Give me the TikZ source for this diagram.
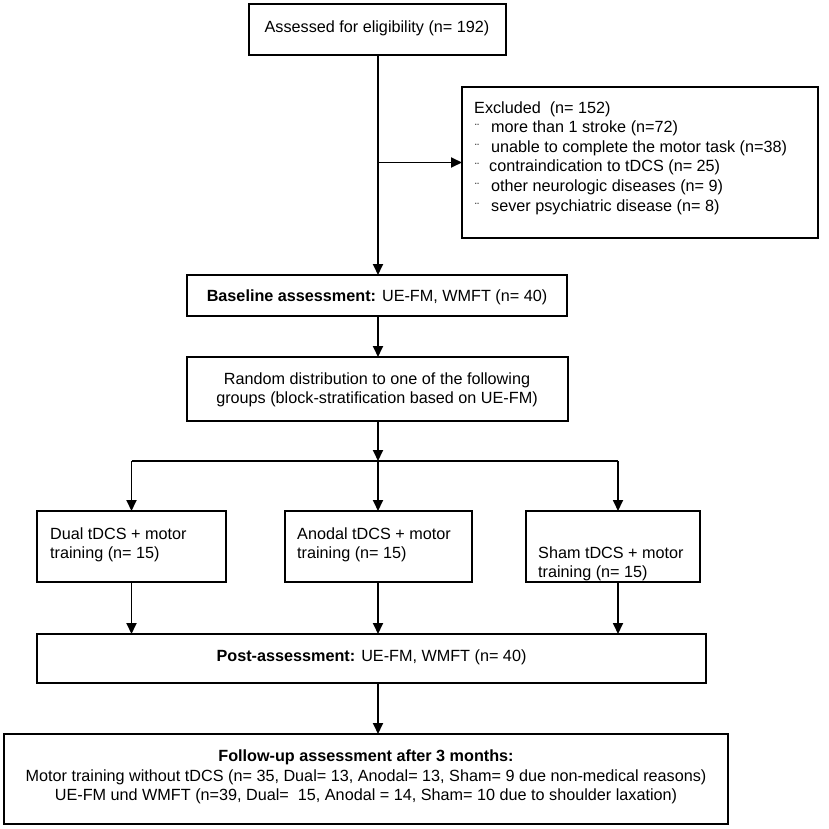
\documentclass[tikz,border=0pt]{standalone}
\usepackage{fontspec}
\setmainfont{Liberation Sans}
\usetikzlibrary{arrows.meta}
\newcommand\mkbox[5]{\node[boxshape, minimum width={#4-#2}, minimum height={#5-#3}] (#1) at ({(#2+#4)/2},{(#3+#5)/2}) {};}
\newcommand\bul{\makebox[17pt][l]{\hspace{1pt}\raisebox{0pt}{\fontsize{12}{12}\selectfont ¨}}}
\begin{document}
\begin{tikzpicture}[x=1pt,y=-1pt,
 boxshape/.style={draw, line width=2pt, inner sep=0pt, outer sep=0pt, rectangle},
 txt/.style={inner sep=0pt, font=\fontsize{16.2}{19.6}\selectfont},
 conn/.style={line width=1.8pt, -{Triangle[length=11pt,width=10pt]}},
 plainline/.style={line width=1.8pt}]
\useasboundingbox[fill=white] (0,0) rectangle (829,829);

\mkbox{elig}{249}{4}{506}{55}
\mkbox{excl}{462}{87}{818}{238}
\mkbox{base}{187}{275}{567}{316}
\mkbox{rand}{187}{357}{568}{421}
\mkbox{dual}{37}{511}{226}{582}
\mkbox{anod}{285}{511}{472}{582}
\mkbox{sham}{526}{511}{700}{582}
\mkbox{post}{37}{634}{706}{683}
\mkbox{foll}{4}{734}{728}{824}

\node[txt] (eligt) at (377,28) {Assessed for eligibility (n= 192)};
\node[txt, anchor=west, align=left] (exclt) at (474,158) {Excluded\ \ (n= 152)\\
\bul more than 1 stroke (n=72)\\
\bul unable to complete the motor task (n=38)\\
\bul\hspace{-2pt}contraindication to tDCS (n= 25)\\
\bul other neurologic diseases (n= 9)\\
\bul sever psychiatric disease (n= 8)};
\node[txt] (baset) at (377,297) {\textbf{Baseline assessment:} UE-FM, WMFT (n= 40)};
\node[txt, align=center] (randt) at (377,390) {Random distribution to one of the following\\groups (block-stratification based on UE-FM)};
\node[txt, anchor=west, align=left] (dualt) at (50,545) {Dual tDCS + motor\\training (n= 15)};
\node[txt, anchor=west, align=left] (anodt) at (297,545) {Anodal tDCS + motor\\training (n= 15)};
\node[txt, anchor=west, align=left] (shamt) at (538,564) {Sham tDCS + motor\\training (n= 15)};
\node[txt] (postt) at (371.5,657) {\textbf{Post-assessment:} UE-FM, WMFT (n= 40)};
\node[txt, align=center] (follt) at (366,777) {\textbf{Follow-up assessment after 3 months:}\\
Motor training without tDCS (n= 35, Dual= 13, Anodal= 13, Sham= 9 due non-medical reasons)\\
UE-FM und WMFT (n=39, Dual=\ \ 15, Anodal = 14, Sham= 10 due to shoulder laxation)};

\coordinate (split) at (378,461);
\draw[conn] (elig.south -| split) -- (base.north -| split);
\draw[conn] (excl.west -| split) -- (excl.west);
\draw[conn] (base.south -| split) -- (rand.north -| split);
\draw[conn] (rand.south -| split) -- (split);
\draw[plainline] (dual.north |- split) -- ([xshift=5pt]sham.north |- split);
\draw[conn] (dual.north |- split) -- (dual.north);
\draw[conn] (split) -- (anod.north -| split);
\draw[conn] ([xshift=5pt]sham.north |- split) -- ([xshift=5pt]sham.north);
\draw[conn] (dual.south) -- (dual.south |- post.north);
\draw[conn] (anod.south -| split) -- (post.north -| split);
\draw[conn] ([xshift=5pt]sham.south) -- ([xshift=5pt]sham.south |- post.north);
\draw[conn] (post.south -| split) -- (foll.north -| split);
\end{tikzpicture}
\end{document}
